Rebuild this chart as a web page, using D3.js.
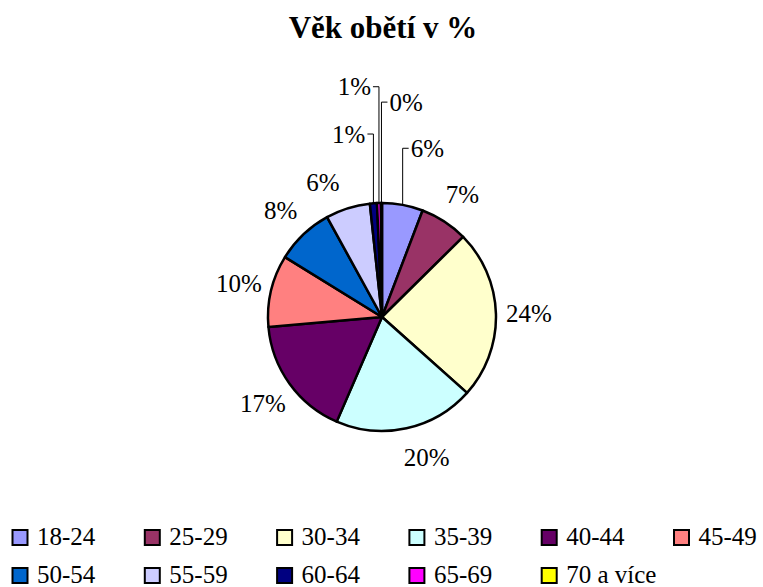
<!DOCTYPE html>
<html>
<head>
<meta charset="utf-8">
<script src="https://cdn.jsdelivr.net/npm/d3@7"></script>
</head>
<body style="margin:0">
<svg width="763" height="587" style="font-family: 'Times New Roman', 'Liberation Serif', serif"></svg>
<script>
const categories = ["18-24", "25-29", "30-34", "35-39", "40-44", "45-49", "50-54", "55-59", "60-64", "65-69", "70 a více"]
const values = [5.8, 6.8, 24.0, 19.9, 17.1, 10.2, 8.2, 6.3, 1.0, 0.55, 0.15]
const colors = ["#9999FF", "#993366", "#FFFFCC", "#CCFFFF", "#660066", "#FF8080", "#0066CC", "#CCCCFF", "#000080", "#FF00FF", "#FFFF00"]
const title = "Věk obětí v %"

// labels that sit on a leader line (height above centre in radii, side of text)
const leaders = {
    "18-24": { up: 1.48, side: 1 },
    "60-64": { up: 1.605, side: -1 },
    "65-69": { up: 2.02, side: -1 },
    "70 a více": { up: 1.885, side: 1 }
}
// small angle nudges (degrees) for labels that Excel pushed aside
const nudge = { "35-39": -5.3, "55-59": -6.2 }

const svg = d3.select("svg"),
    cx = 382,
    cy = 317,
    r = 114,
    serif = '"Times New Roman"'

const total = d3.sum(values)
const data = categories.map((c, i) => ({ cat: c, value: values[i], color: colors[i] }))

svg.append("text")
    .attr("x", 383)
    .attr("y", 38)
    .style("font-family", serif)
    .attr("text-anchor", "middle")
    .attr("font-size", 31)
    .attr("font-weight", "bold")
    .text(title)

const pie = d3.pie().sort(null).value(d => d.value)
const arc = d3.arc().innerRadius(0).outerRadius(r)
const arcs = pie(data)

const g = svg.append("g").attr("transform", `translate(${cx},${cy})`)

g.selectAll("path")
    .data(arcs)
    .enter()
    .append("path")
    .attr("d", arc)
    .attr("fill", d => d.data.color)
    .attr("stroke", "#000")
    .attr("stroke-width", 2.5)
    .attr("stroke-linejoin", "round")

const pct = d => Math.round(d.data.value / total * 100) + "%"
const mid = d => (d.startAngle + d.endAngle) / 2
const labAngle = d => mid(d) + (nudge[d.data.cat] || 0) * Math.PI / 180

// ordinary labels
g.selectAll("text.lbl")
    .data(arcs.filter(d => !leaders[d.data.cat]))
    .enter()
    .append("text")
    .attr("class", "lbl")
    .attr("x", d => Math.sin(labAngle(d)) * (r + 33))
    .attr("y", d => -Math.cos(labAngle(d)) * (r + 33))
    .style("font-family", serif)
    .attr("dy", "0.35em")
    .attr("text-anchor", "middle")
    .attr("font-size", 25)
    .text(pct)

// labels with leader lines
const lead = g.selectAll("g.lead")
    .data(arcs.filter(d => leaders[d.data.cat]))
    .enter()
    .append("g")
    .attr("class", "lead")

lead.append("path")
    .attr("fill", "none")
    .attr("stroke", "#000")
    .attr("stroke-width", 1)
    .attr("d", d => {
        const L = leaders[d.data.cat],
            x0 = Math.sin(mid(d)) * r,
            y0 = -Math.cos(mid(d)) * r,
            y1 = -L.up * r
        return `M${x0},${y0}V${y1}H${x0 + L.side * 6}`
    })

lead.append("text")
    .attr("x", d => Math.sin(mid(d)) * r + leaders[d.data.cat].side * 8)
    .attr("y", d => -leaders[d.data.cat].up * r)
    .style("font-family", serif)
    .attr("dy", "0.35em")
    .attr("text-anchor", d => leaders[d.data.cat].side > 0 ? "start" : "end")
    .attr("font-size", 25)
    .text(pct)

// legend
const legend = svg.selectAll("g.legend")
    .data(data)
    .enter()
    .append("g")
    .attr("class", "legend")
    .attr("transform", (d, i) => `translate(${12.5 + (i % 6) * 132.3},${i < 6 ? 545 : 583})`)

legend.append("rect")
    .attr("x", 0)
    .attr("y", -15)
    .attr("width", 15)
    .attr("height", 15)
    .attr("fill", d => d.color)
    .attr("stroke", "#000")
    .attr("stroke-width", 2)

legend.append("text")
    .attr("x", 24.5)
    .attr("y", 0)
    .style("font-family", serif)
    .attr("font-size", 25)
    .text(d => d.cat)
</script>
</body>
</html>
